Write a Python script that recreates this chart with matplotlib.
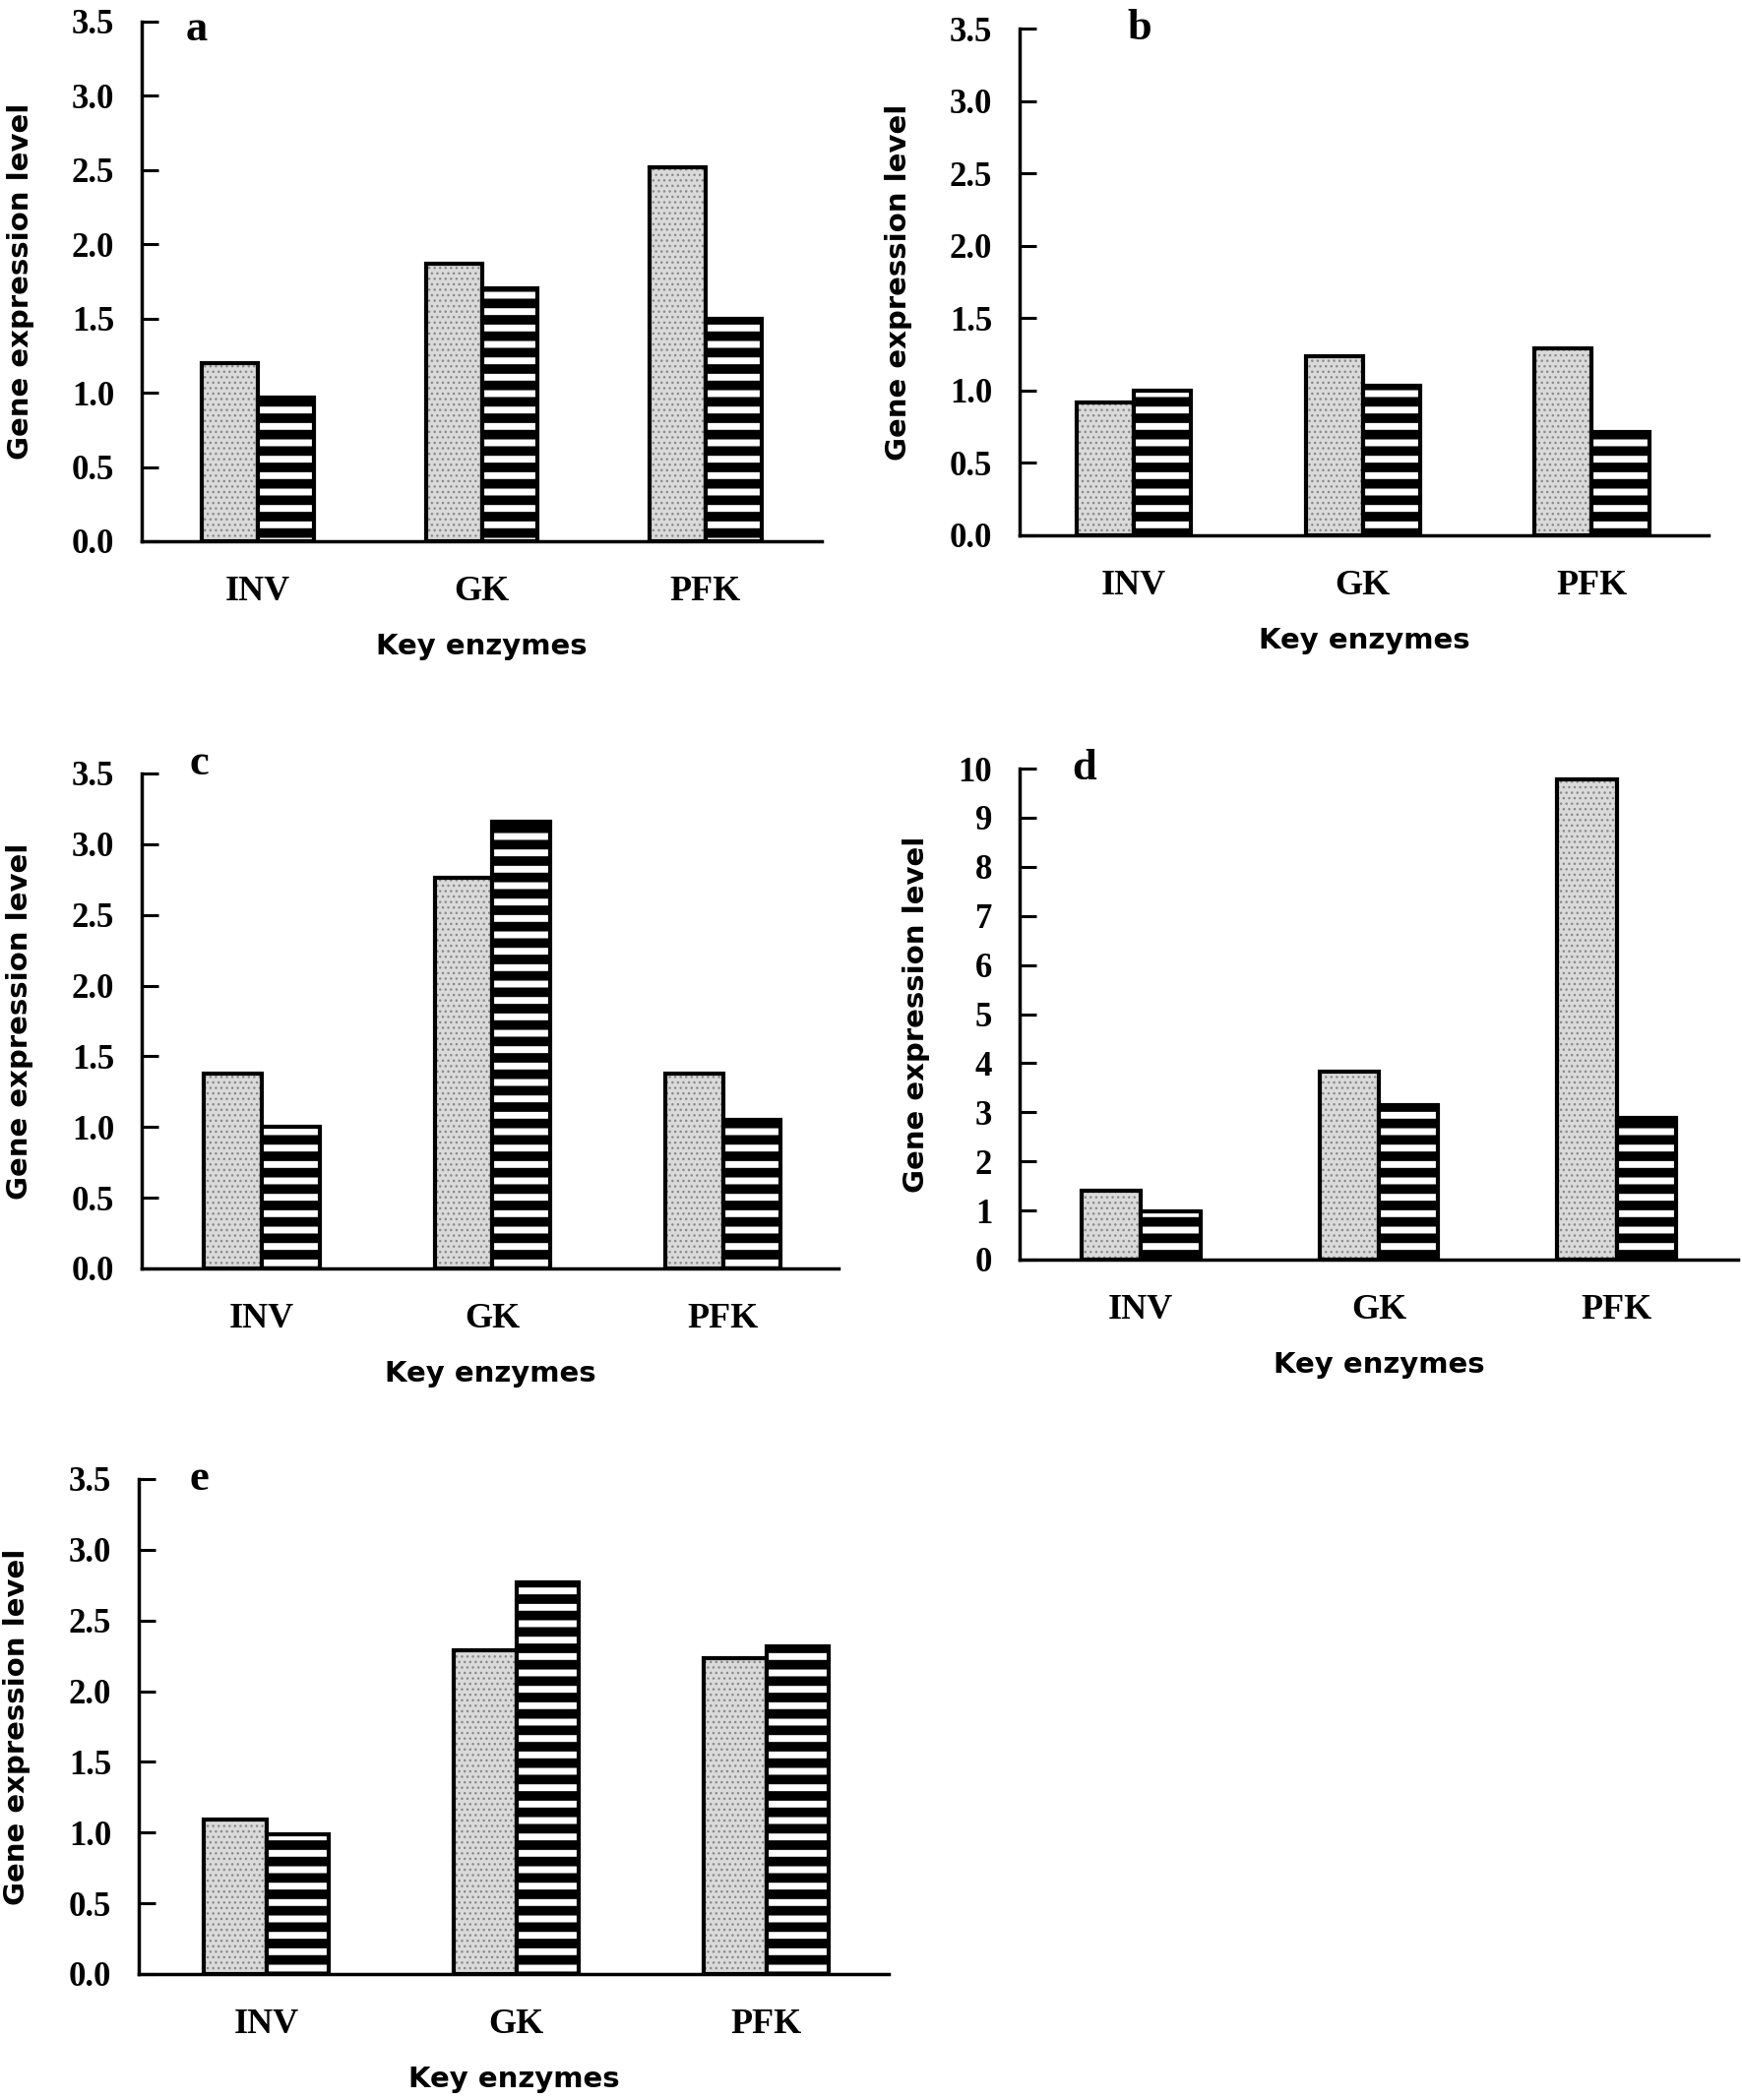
import numpy as np
import matplotlib
matplotlib.use('Agg')
import matplotlib.pyplot as plt

categories = ['INV', 'GK', 'PFK']

# dotted bar (first) and striped bar (second) of each enzyme, per panel
a_dotted = [1.20, 1.87, 2.52]
a_striped = [0.97, 1.70, 1.50]
b_dotted = [0.92, 1.24, 1.29]
b_striped = [1.00, 1.03, 0.71]
c_dotted = [1.38, 2.76, 1.38]
c_striped = [1.00, 3.16, 1.05]
d_dotted = [1.41, 3.83, 9.79]
d_striped = [0.98, 3.14, 2.88]
e_dotted = [1.09, 2.29, 2.23]
e_striped = [0.99, 2.77, 2.32]

small_ticks = [0.0, 0.5, 1.0, 1.5, 2.0, 2.5, 3.0, 3.5]
big_ticks = [0, 1, 2, 3, 4, 5, 6, 7, 8, 9, 10]

serif = ['Liberation Serif', 'DejaVu Serif']
sans = ['DejaVu Sans']

fig = plt.figure(figsize=(17.7, 21.34), dpi=100)


def hatch_lw(patches, lw):
    for p in patches:
        if hasattr(p, 'set_hatch_linewidth'):
            p.set_hatch_linewidth(lw)


def panel(rect, dotted, striped, ticks, fmt, xlim, letter, letter_pos, ylab_x):
    ax = fig.add_axes(rect)
    x = np.arange(len(categories))
    w = 0.25

    with plt.rc_context({'hatch.linewidth': 1.0}):
        bars = ax.bar(x - w / 2, dotted, w, color='#dadada', edgecolor='#8a8a8a',
                      hatch='...', linewidth=0, zorder=2)
    hatch_lw(bars, 1.0)
    ax.bar(x - w / 2, dotted, w, fill=False, edgecolor='black', linewidth=3, zorder=3)

    with plt.rc_context({'hatch.linewidth': 7.0}):
        bars = ax.bar(x + w / 2, striped, w, color='white', edgecolor='black',
                      hatch='-', linewidth=3, zorder=3)
    hatch_lw(bars, 7.0)

    ax.set_xlim(*xlim)
    ax.set_ylim(ticks[0], ticks[-1])
    ax.set_yticks(ticks)
    ax.set_yticklabels([fmt.format(t) for t in ticks], family=serif,
                       fontweight='bold', fontsize=25)
    ax.set_xticks(x)
    ax.set_xticklabels(categories, family=serif, fontweight='bold', fontsize=26)

    for s in ['top', 'right']:
        ax.spines[s].set_visible(False)
    for s in ['left', 'bottom']:
        ax.spines[s].set_linewidth(2.5)
    ax.tick_params(axis='y', direction='in', length=12, width=2.2, pad=20)
    ax.tick_params(axis='x', length=0, pad=25)

    ax.set_ylabel('Gene expression level', family=sans, fontweight='bold', fontsize=21)
    ax.yaxis.set_label_coords(ylab_x, 0.5)
    ax.set_xlabel('Key enzymes', family=sans, fontweight='bold', fontsize=21, labelpad=18)

    ax.text(letter_pos[0], letter_pos[1], letter, transform=ax.transAxes,
            family=serif, fontweight='bold', fontsize=32, ha='center', va='center')
    return ax


panel([0.0814, 0.7423, 0.3904, 0.2474], a_dotted, a_striped, small_ticks, '{:.1f}',
      (-0.52, 2.52), 'a', (0.08, 0.985), -0.158)
panel([0.5853, 0.7451, 0.3955, 0.2413], b_dotted, b_striped, small_ticks, '{:.1f}',
      (-0.50, 2.51), 'b', (0.174, 1.0), -0.156)
panel([0.0814, 0.3960, 0.4000, 0.2357], c_dotted, c_striped, small_ticks, '{:.1f}',
      (-0.52, 2.50), 'c', (0.082, 1.02), -0.156)
panel([0.5853, 0.4002, 0.4124, 0.2338], d_dotted, d_striped, big_ticks, '{:d}',
      (-0.51, 2.51), 'd', (0.09, 1.0), -0.124)
panel([0.0797, 0.0600, 0.4305, 0.2357], e_dotted, e_striped, small_ticks, '{:.1f}',
      (-0.51, 2.49), 'e', (0.081, 1.0), -0.144)

fig.savefig('out.png', dpi=100)
